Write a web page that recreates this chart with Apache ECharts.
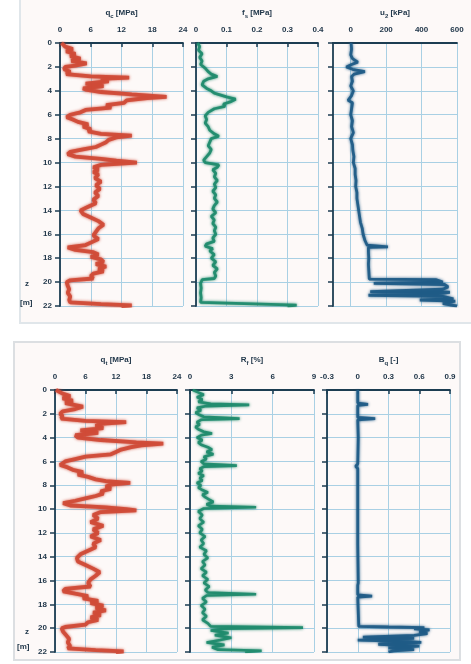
<!DOCTYPE html>
<html><head><meta charset="utf-8">
<script src="https://cdn.jsdelivr.net/npm/echarts@6/dist/echarts.min.js"></script>
<style>html,body{margin:0;padding:0;background:#fff}#c{width:471px;height:664px}</style>
</head><body><div id="c"></div><script>
// ---------- DATA ----------
var depthTicks = [0,2,4,6,8,10,12,14,16,18,20,22];

var qcTopDepth = [0,0.3,0.5,0.7,0.9,1.1,1.3,1.5,1.7,1.9,2.0,2.2,2.4,2.6,2.8,2.9,3.0,3.2,3.4,3.6,3.8,3.9,4.1,4.3,4.5,4.6,4.8,5.0,5.2,5.4,5.6,5.8,6.0,6.2,6.4,6.6,6.8,7.0,7.2,7.4,7.6,7.75,7.9,8.1,8.3,8.5,8.7,8.9,9.1,9.3,9.5,9.7,9.85,10.0,10.2,10.4,10.6,10.8,11.0,11.3,11.6,11.9,12.2,12.5,12.8,13.1,13.4,13.7,14.0,14.3,14.6,14.9,15.2,15.5,15.8,16.1,16.4,16.7,16.9,17.1,17.3,17.5,17.7,17.9,18.1,18.3,18.5,18.7,18.9,19.1,19.3,19.5,19.7,19.85,20.0,20.3,20.6,20.9,21.2,21.5,21.7,21.85,21.95,22.0];
var qcTopVal   = [0.3,1.0,2.5,1.2,3.0,2.0,4.0,2.2,5.2,3.0,1.0,0.8,2.0,1.2,6.0,13.5,8.0,9.5,5.0,8.5,4.5,5.0,8.0,14.0,20.8,17.0,13.0,12.5,9.0,10.0,5.0,4.0,2.0,1.3,2.5,3.5,5.5,4.5,6.0,5.5,8.0,14.0,11.0,9.5,9.0,8.0,7.0,4.5,2.0,1.5,3.0,8.0,11.0,15.0,8.0,6.5,7.5,6.5,7.5,6.8,8.0,7.0,7.8,6.8,7.5,6.5,7.0,5.5,4.0,4.5,6.0,7.5,8.5,7.5,7.0,6.5,7.5,6.0,5.0,1.5,3.0,6.5,7.5,6.0,8.0,8.5,7.0,9.0,7.5,8.5,6.5,6.0,6.5,2.0,1.3,1.5,1.8,1.5,2.0,1.8,2.0,8.0,14.0,12.0];

var fsTopDepth = [0,0.3,0.6,0.9,1.2,1.5,1.8,2.1,2.4,2.6,2.8,3.0,3.2,3.5,3.8,4.0,4.2,4.5,4.7,4.9,5.1,5.3,5.5,5.8,6.1,6.4,6.7,7.0,7.3,7.6,7.8,8.0,8.3,8.6,8.9,9.2,9.5,9.8,10.0,10.2,10.4,10.6,10.9,11.2,11.5,11.8,12.1,12.4,12.7,13.0,13.3,13.6,13.9,14.2,14.5,14.8,15.1,15.4,15.7,16.0,16.3,16.6,16.8,17.0,17.2,17.4,17.7,18.0,18.3,18.6,18.9,19.2,19.5,19.7,19.8,20.1,20.5,20.9,21.3,21.7,21.85,21.92,22.0];
var fsTopVal   = [0.005,0.012,0.008,0.02,0.012,0.02,0.015,0.03,0.04,0.05,0.07,0.04,0.025,0.02,0.035,0.05,0.06,0.1,0.13,0.115,0.09,0.095,0.06,0.04,0.03,0.035,0.03,0.04,0.045,0.06,0.075,0.05,0.045,0.04,0.05,0.045,0.035,0.025,0.03,0.075,0.07,0.055,0.065,0.06,0.07,0.06,0.065,0.055,0.065,0.06,0.07,0.06,0.055,0.065,0.05,0.06,0.055,0.065,0.06,0.065,0.055,0.06,0.035,0.03,0.055,0.045,0.06,0.05,0.065,0.055,0.07,0.06,0.065,0.06,0.02,0.015,0.017,0.015,0.017,0.015,0.015,0.33,0.3];

var u2TopDepth = [0,0.5,1.0,1.3,1.6,1.8,2.0,2.2,2.4,2.6,2.8,3.2,3.6,4.0,4.4,4.8,5.0,5.5,6.0,6.5,7.0,7.5,8.0,8.5,9.0,9.5,10.0,10.5,11.0,11.5,12.0,12.5,13.0,13.5,14.0,14.5,15.0,15.5,16.0,16.5,16.9,17.0,17.05,17.1,17.5,18.0,18.5,19.0,19.5,19.75,19.8,19.9,20.0,20.1,20.2,20.4,20.6,20.8,20.85,21.0,21.1,21.2,21.4,21.5,21.6,21.8,21.9,22.0];
var u2TopVal   = [2,5,0,10,40,5,-25,10,80,20,5,10,0,15,5,-15,10,5,0,10,5,15,0,10,12,18,15,25,25,30,28,35,35,40,45,50,55,65,70,80,92,95,210,100,100,102,100,102,104,105,480,500,520,130,530,550,520,110,560,470,100,520,580,390,590,520,560,600];

var qtBotDepth = [0,0.3,0.5,0.7,0.9,1.1,1.4,1.6,1.8,2.0,2.2,2.4,2.6,2.7,2.85,3.0,3.2,3.4,3.6,3.8,4.0,4.2,4.4,4.5,4.65,4.8,5.0,5.2,5.4,5.6,5.8,6.0,6.3,6.5,6.7,6.9,7.1,7.3,7.5,7.65,7.8,7.95,8.1,8.3,8.5,8.7,8.9,9.1,9.3,9.5,9.7,9.85,10.0,10.1,10.25,10.5,10.8,11.1,11.4,11.7,12.0,12.3,12.6,12.9,13.2,13.5,13.8,14.1,14.4,14.7,15.0,15.3,15.6,15.9,16.2,16.5,16.7,16.9,17.1,17.3,17.5,17.7,17.9,18.1,18.3,18.5,18.7,18.9,19.1,19.3,19.5,19.7,19.9,20.0,20.3,20.6,20.9,21.2,21.5,21.7,21.85,21.95,22.0];
var qtBotVal   = [0.2,1.5,3.0,1.5,3.5,2.0,5.5,4.0,1.5,1.0,1.5,1.2,6.0,14.0,9.0,8.0,9.5,5.0,8.5,4.0,4.5,9.0,16.0,21.3,17.0,15.0,13.0,12.0,11.0,6.0,4.0,2.0,1.0,2.5,3.5,5.5,4.5,6.5,8.0,10.0,14.8,11.0,10.0,11.0,9.0,9.5,8.0,6.0,4.0,1.6,3.0,10.0,14.0,16.0,9.0,7.5,8.5,7.0,9.5,7.5,8.5,7.0,9.0,7.5,8.0,6.5,5.0,4.3,4.5,6.0,7.5,8.8,8.0,7.0,6.5,7.0,2.0,1.6,4.0,6.5,5.5,8.5,7.0,9.5,8.0,10.0,7.5,9.0,7.0,8.5,6.5,6.0,2.0,1.3,1.6,2.2,2.8,2.5,3.0,2.5,8.0,13.5,12.0];

var rfBotDepth = [0,0.2,0.4,0.6,0.8,1.0,1.15,1.25,1.35,1.5,1.7,1.9,2.1,2.25,2.4,2.5,2.7,2.9,3.1,3.3,3.5,3.65,3.8,4.0,4.2,4.4,4.6,4.8,5.0,5.2,5.4,5.6,5.8,6.0,6.2,6.35,6.45,6.6,6.8,7.0,7.2,7.4,7.6,7.8,8.0,8.2,8.4,8.6,8.8,9.0,9.2,9.4,9.6,9.75,9.85,9.95,10.2,10.5,10.8,11.1,11.4,11.7,12.0,12.3,12.6,12.9,13.2,13.5,13.8,14.1,14.4,14.7,15.0,15.3,15.6,15.9,16.2,16.5,16.8,17.0,17.15,17.25,17.5,17.8,18.1,18.4,18.7,19.0,19.3,19.6,19.85,19.95,20.05,20.2,20.4,20.6,20.8,21.0,21.2,21.4,21.6,21.8,21.9,22.0];
var rfBotVal   = [0.2,0.6,1.0,0.5,0.9,0.6,1.5,4.3,1.2,0.5,0.8,0.4,0.7,1.0,3.6,0.8,0.5,0.7,0.4,0.6,1.0,1.6,0.8,0.5,0.9,0.6,0.8,1.3,1.6,1.2,1.7,1.0,1.2,0.8,1.0,3.4,1.0,0.7,0.9,0.6,1.0,0.7,0.9,0.5,0.8,0.6,0.9,1.3,0.9,1.1,1.4,1.7,1.2,1.5,4.8,1.0,0.6,0.9,0.7,1.0,0.6,0.9,0.7,1.1,0.8,1.0,0.7,1.2,1.0,1.3,0.9,1.1,0.8,1.2,0.9,1.3,1.0,1.4,1.1,1.3,4.8,1.2,0.9,1.2,0.8,1.1,0.9,1.2,0.9,1.3,1.5,8.2,2.5,1.5,2.8,1.8,3.0,2.2,1.2,2.5,1.6,2.0,5.2,4.0];

var bqBotDepth = [0,0.5,1.1,1.2,1.3,2.3,2.4,2.5,4.0,6.2,6.4,6.6,9.9,10.0,13.0,16.2,16.3,16.4,17.2,17.3,17.4,19.85,19.9,19.95,20.05,20.15,20.3,20.45,20.6,20.75,20.85,21.0,21.1,21.2,21.35,21.5,21.65,21.8,21.9,22.0];
var bqBotVal   = [0,0,0,0.1,0,0,0.17,0,0.005,0,-0.02,0,0,0.01,0,0.005,0.02,0,0,0.14,0,0.01,0.3,0.65,0.55,0.7,0.6,0.68,0.55,0.05,0.55,0,0.45,0.62,0.2,0.6,0.3,0.55,0.35,0.3];

// ---------- STYLE / LAYOUT ----------
var axisColor = '#1c3d52', gridColor = '#a9d0e4', labelColor = '#22384b';
var red = '#cf4a36', green = '#1d8a6b', blue = '#1d5a86';

function pairs(xs, ds){ return xs.map(function(v,i){ return [v, ds[i]]; }); }

var panels = [
  {left:60, top:43, width:123, height:263, min:0, max:24, interval:6, name:['q','c',' [MPa]'], data:pairs(qcTopVal,qcTopDepth), color:red, lw:3.8, ylab:true},
  {left:196, top:43, width:122, height:263, min:0, max:0.4, interval:0.1, name:['f','s',' [MPa]'], data:pairs(fsTopVal,fsTopDepth), color:green, lw:2.8},
  {left:333, top:43, width:124, height:263, min:-100, max:600, interval:100, alt:true, name:['u','2',' [kPa]'], data:pairs(u2TopVal,u2TopDepth), color:blue, lw:2.8},
  {left:55, top:390, width:122, height:262, min:0, max:24, interval:6, name:['q','t',' [MPa]'], data:pairs(qtBotVal,qtBotDepth), color:red, lw:3.8, ylab:true},
  {left:190, top:390, width:124, height:262, min:0, max:9, interval:3, name:['R','f',' [%]'], data:pairs(rfBotVal,rfBotDepth), color:green, lw:2.6},
  {left:327, top:390, width:123, height:262, min:-0.3, max:0.9, interval:0.3, name:['B','q',' [-]'], data:pairs(bqBotVal,bqBotDepth), color:blue, lw:2.8}
];

var grids=[], xAxes=[], yAxes=[], series=[];
panels.forEach(function(p,i){
  grids.push({left:p.left, top:p.top, width:p.width, height:p.height, containLabel:false});
  xAxes.push({
    type:'value', gridIndex:i, position:'top', min:p.min, max:p.max, interval:p.interval,
    axisLine:{show:true, onZero:false, lineStyle:{color:axisColor, width:1.8}},
    axisTick:{show:!p.alt, inside:true, length:4, lineStyle:{color:axisColor, width:1.5}},
    axisLabel:{fontSize:8, fontWeight:'bold', color:labelColor, margin:9, fontFamily:'Liberation Sans',
      formatter:function(v){
        if (p.alt) { return (Math.round(v) % 200 === 0) ? String(Math.round(v)) : ''; }
        var r = Math.round(v*10)/10; return String(r);
      }},
    splitLine:{show:true, lineStyle:{color: p.alt ? ['rgba(0,0,0,0)', gridColor] : gridColor, width:1}},
    name:'{b|'+p.name[0]+'}{s|'+p.name[1]+'}{b|'+p.name[2]+'}', nameLocation:'middle', nameGap:26,
    nameTextStyle:{rich:{
      b:{fontSize:8, fontWeight:'bold', color:labelColor, fontFamily:'Liberation Sans', lineHeight:11, verticalAlign:'bottom'},
      s:{fontSize:6, fontWeight:'bold', color:labelColor, fontFamily:'Liberation Sans', lineHeight:11, verticalAlign:'bottom', padding:[0,0,-2,0]}
    }}
  });
  yAxes.push({
    type:'value', gridIndex:i, inverse:true, min:0, max:22, interval:2,
    axisLine:{show:true, onZero:false, lineStyle:{color:axisColor, width:1.8}},
    axisTick:{show:true, length:5, lineStyle:{color:axisColor, width:1.5}},
    axisLabel:{show:!!p.ylab, fontSize:8, fontWeight:'bold', color:labelColor, margin:8, fontFamily:'Liberation Sans',
      formatter:function(v){ return depthTicks.indexOf(v) >= 0 ? String(v) : ''; }},
    splitLine:{show:true, lineStyle:{color:gridColor, width:1}}
  });
  series.push({
    type:'line', xAxisIndex:i, yAxisIndex:i, data:p.data, showSymbol:false, silent:true, z:5,
    lineStyle:{color:p.color, width:p.lw, shadowColor:p.color, shadowBlur:3, opacity:0.92}
  });
});

var txt = {fontSize:8, fontWeight:'bold', fill:labelColor, fontFamily:'Liberation Sans'};
var graphics = [
  {type:'rect', shape:{x:20, y:-4, width:458, height:327}, style:{fill:'#fdf9f8', stroke:'#e0e6ea', lineWidth:2}, z:-10, silent:true},
  {type:'rect', shape:{x:14, y:342, width:446, height:318}, style:{fill:'#fdf9f8', stroke:'#dcdfe2', lineWidth:2}, z:-10, silent:true},
  {type:'text', x:25, y:280, style:Object.assign({text:'z'}, txt), z:10},
  {type:'text', x:20, y:299, style:Object.assign({text:'[m]'}, txt), z:10},
  {type:'text', x:25, y:628, style:Object.assign({text:'z'}, txt), z:10},
  {type:'text', x:17, y:643, style:Object.assign({text:'[m]'}, txt), z:10}
];

var chart = echarts.init(document.getElementById('c'), null, {renderer:'canvas'});
chart.setOption({
  animation:false, backgroundColor:'#ffffff',
  grid:grids, xAxis:xAxes, yAxis:yAxes, series:series, graphic:graphics
});
</script></body></html>
